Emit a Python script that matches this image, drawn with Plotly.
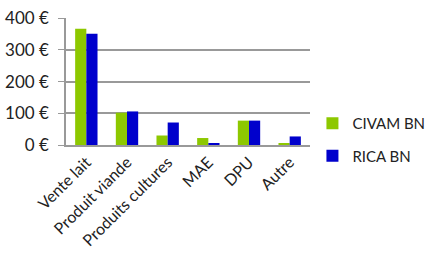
import plotly.graph_objects as go

categories = ["Vente lait", "Produit viande", "Produits cultures", "MAE", "DPU", "Autre"]
civam = [367, 102, 30, 22, 77, 4]
rica = [351, 106, 71, 5, 77, 27]
tick_vals = [0, 100, 200, 300, 400]
tick_text = ["0 €", "100 €", "200 €", "300 €", "400 €"]

fig = go.Figure()
fig.add_bar(x=categories, y=civam, name="CIVAM BN", legendgroup="a",
            marker=dict(color="#8DC800", line=dict(width=0)))
fig.add_bar(x=categories, y=rica, name="RICA BN", legendgroup="b",
            marker=dict(color="#0000CC", line=dict(width=0)))

fig.update_layout(
    width=433, height=262,
    margin=dict(l=66, r=123, t=18, b=117, autoexpand=False),
    paper_bgcolor="white", plot_bgcolor="white",
    font=dict(family="Lato", size=16, color="#222222"),
    barmode="group", bargap=0.45, bargroupgap=0,
    showlegend=True,
    legend=dict(x=1.01, y=0.043, xanchor="left", yanchor="middle", font=dict(size=15),
                traceorder="grouped", tracegroupgap=10, itemwidth=30),
)
fig.update_xaxes(tickangle=-45, showline=True, linecolor="#999999", linewidth=1.5,
                 ticks="", showgrid=False, automargin=False)
fig.update_yaxes(range=[0, 401], tickvals=tick_vals, ticktext=tick_text,
                 showgrid=True, gridcolor="#999999", gridwidth=1.5,
                 showline=True, linecolor="#999999", linewidth=1.5,
                 ticks="outside", ticklen=6, tickcolor="#999999", zeroline=False,
                 automargin=False, tickfont=dict(size=17), ticklabelstandoff=6)
fig.write_html("out.html", config={"displayModeBar": False},
               post_script="document.body.style.margin='0';")
